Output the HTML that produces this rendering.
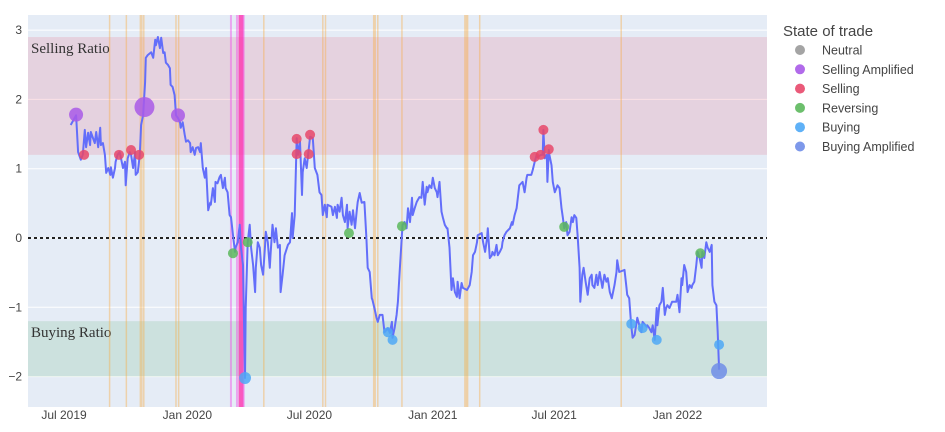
<!DOCTYPE html>
<html><head><meta charset="utf-8">
<style>
html,body{margin:0;padding:0;background:#fff;}
svg{display:block;font-family:"Liberation Sans",sans-serif;}
</style></head>
<body>
<svg id="chart" width="945" height="432" viewBox="0 0 945 432">
<defs><clipPath id="plotclip"><rect x="28" y="15" width="739" height="392"/></clipPath></defs>
<rect x="28" y="15" width="739" height="392" fill="#e5ecf6"/>
<g id="grid"></g>
<g id="bands" clip-path="url(#plotclip)"></g>
<g id="vlines" clip-path="url(#plotclip)"></g>
<g id="series" clip-path="url(#plotclip)"></g>
<g id="markers" clip-path="url(#plotclip)"></g>
<g id="axes"></g>
<g id="legend"></g>
</svg>
<script>
// x = days since 2019-07-01, y = ratio value
const lineDays=[10,18,21,25,28,31,33,36,39,40,46,48,51,54,55,58,61,63,66,69,70,73,76,77,80,83,85,88,91,92,95,98,100,103,106,107,110,113,115,118,121,122,125,130,133,136,137,140,143,145,148,150,152,155,158,159,162,165,167,170,173,174,177,180,182,185,188,189,192,195,197,200,203,204,207,210,212,215,218,219,222,225,226,229,232,234,237,240,241,244,247,249,252,255,256,259,262,264,267,270,271,274,277,279,282,285,286,289,292,294,297,300,301,304,307,308,311,314,316,319,322,323,326,329,334,337,340,341,344,347,349,352,355,356,359,362,364,367,371,374,378,381,384,386,389,392,393,399,401,404,407,408,411,414,416,419,422,423,426,429,431,434,437,438,441,444,448,451,453,456,459,460,463,466,468,471,475,478,483,486,489,490,493,496,498,501,504,505,508,511,513,516,519,520,523,526,530,533,535,538,541,542,545,548,550,553,556,557,560,563,565,568,571,572,575,578,580,583,586,587,590,593,595,601,605,608,610,613,616,617,623,625,628,631,632,635,638,639,642,645,647,650,653,654,657,660,665,668,669,672,675,679,684,687,690,691,697,699,702,705,706,712,714,715,717,720,721,723,724,727,729,732,736,739,742,744,746,749,751,754,757,759,761,764,766,769,770,773,775,778,781,784,787,788,791,794,796,799,803,806,809,811,814,817,821,824,825,828,836,839,840,843,846,848,851,855,858,861,863,869,870,873,876,878,881,884,885,888,891,893,896,898,900,903,907,913,915,918,921,922,925,928,930,933,936,937,940,943,945,948,951,952,955,958,960,963,966,967,970,973,975,977];
const lineValues=[1.63,1.77,1.24,1.13,1.20,1.56,1.31,1.52,1.34,1.53,1.37,1.53,1.31,1.59,1.34,1.37,1.20,0.94,1.01,0.91,1.02,0.87,1.01,1.10,1.20,1.24,1.15,1.01,1.10,0.76,1.15,1.24,1.20,1.01,1.24,0.91,0.95,1.20,1.63,1.77,2.25,2.60,2.64,2.68,2.60,2.86,2.78,2.90,2.74,2.89,2.67,2.68,2.53,2.50,2.45,2.21,2.18,2.06,1.77,1.73,1.67,1.59,1.67,1.49,1.39,1.41,1.37,1.24,1.31,1.20,1.30,1.31,1.24,1.37,1.01,0.87,1.01,0.40,0.51,0.48,0.72,0.52,0.81,0.79,0.88,0.91,0.72,0.87,0.72,0.66,0.33,0.30,0.04,-0.20,-0.14,-0.06,0.19,-0.14,-0.39,-2.02,-1.01,-0.06,0.19,-0.14,-0.39,-0.78,-0.43,-0.06,-0.14,-0.39,-0.53,-0.10,0.09,-0.06,-0.43,-0.25,0.19,-0.06,0.14,-0.14,-0.10,-0.78,-0.53,-0.25,-0.10,-0.06,0.36,0,0.33,1.44,1.20,1.39,0.62,0.95,1.15,1.01,1.20,1.46,1.44,1.01,0.91,0.66,0.62,0.33,0.48,0.30,0.48,0.45,0.33,0.45,0.29,0.48,0.38,0.58,0.33,0.23,0.48,0.14,0.38,0.19,0.40,0.14,0.43,0.52,0.65,0.51,0.52,0,-0.43,-0.49,-0.87,-0.89,-1.01,-1.15,-1.21,-1.11,-1.11,-1.36,-1.30,-1.37,-1.21,-1.44,-1.30,-1.11,-0.92,-0.43,0.04,0.19,0.23,0.14,0.43,0.23,0.58,0.33,0.43,0.52,0.59,0.58,0.81,0.48,0.74,0.66,0.76,0.72,0.87,0.72,0.66,0.59,0.81,0.38,0.30,0.19,0.14,0.14,-0.14,-0.75,-0.58,-0.78,-0.85,-0.63,-0.87,-0.65,-0.72,-0.75,-0.68,-0.49,-0.25,-0.20,-0.06,0.04,0.07,-0.06,-0.20,0,0.14,-0.29,-0.25,-0.20,-0.25,-0.10,-0.25,-0.20,-0.14,-0.06,0.04,0.09,0.14,0.23,0.19,0.33,0.43,0.76,0.81,0.66,0.87,0.91,0.91,0.98,1.10,1.20,1.17,1.20,1.20,1.56,1.15,1.20,0.81,1.27,1.20,1.05,0.81,0.66,0.76,0.72,0.43,0.29,0.14,0.23,0.04,0.09,0.30,0.23,0.33,0.29,0.04,-0.43,-0.92,-0.53,-0.43,-0.63,-0.82,-0.58,-0.53,-0.68,-0.72,-0.53,-0.68,-0.49,-0.72,-0.53,-0.63,-0.58,-0.78,-0.87,-0.68,-0.49,-0.32,-0.49,-0.46,-0.72,-0.82,-0.87,-1.26,-1.44,-1.40,-1.15,-1.26,-1.36,-1.21,-1.28,-1.26,-1.30,-1.36,-1.26,-1.47,-1.01,-1.26,-0.97,-0.92,-0.72,-1.11,-1.01,-0.97,-1.01,-0.92,-0.92,-0.82,-1.07,-0.58,-0.68,-0.39,-0.49,-0.78,-0.68,-0.72,-0.68,-0.63,-0.39,-0.20,-0.29,-0.43,-0.20,-0.29,-0.06,-0.14,-0.20,-0.10,-0.68,-0.92,-0.97,-1.36,-1.90];
const markerDays=[18,120,170,30,82,100,112,347,347,365,367,702,711,715,723,252,274,425,504,746,949,270,483,490,846,863,884,977,977];
const markerValues=[1.78,1.89,1.77,1.20,1.20,1.27,1.20,1.21,1.43,1.21,1.49,1.17,1.20,1.56,1.28,-0.22,-0.06,0.07,0.17,0.16,-0.22,-2.02,-1.36,-1.47,-1.24,-1.30,-1.47,-1.54,-1.92];
const markerStates=["Selling Amplified","Selling Amplified","Selling Amplified","Selling","Selling","Selling","Selling","Selling","Selling","Selling","Selling","Selling","Selling","Selling","Selling","Reversing","Reversing","Reversing","Reversing","Reversing","Reversing","Buying","Buying","Buying","Buying","Buying","Buying","Buying","Buying Amplified"];
const markerSizes=[7,10,7,5,5,5,5,5,5,5,5,5,5,5,5,5,5,5,5,5,5,6,5,5,5,5,5,5,8];
const orangeLineDays=[68,93,115,119,167,171,298,386,390,463,468,504,599,602,620,831];
const pinkLineDays=[249,258,264,268];
const stateNames=["Neutral","Selling Amplified","Selling","Reversing","Buying","Buying Amplified"];
const stateColors=["#9a9a9a","#a95ae8","#e8486a","#5cb85c","#4ea8f6","#6f8de8"];
const yTicks=[3,2,1,0,-1,-2];
const yTickLabels=["3","2","1","0","−1","−2"];
const xTickDays=[0,184,366,550,731,915];
const xTickLabels=["Jul 2019","Jan 2020","Jul 2020","Jan 2021","Jul 2021","Jan 2022"];
const sellBand=[1.2,2.9];
const buyBand=[-2.0,-1.2];

const NS="http://www.w3.org/2000/svg";
function X(d){return 64+d*0.6705;}
function Y(v){return 238-v*69.3;}
function mk(tag,attrs,parent){const e=document.createElementNS(NS,tag);for(const k in attrs)e.setAttribute(k,attrs[k]);parent.appendChild(e);return e;}
const grid=document.getElementById('grid'),bands=document.getElementById('bands'),vl=document.getElementById('vlines'),ser=document.getElementById('series'),mg=document.getElementById('markers'),ax=document.getElementById('axes'),lg=document.getElementById('legend');

yTicks.forEach((t,i)=>{
  const g=mk('line',{x1:28,x2:767,y1:Y(t),y2:Y(t),stroke:'#fff','stroke-width':1},grid);
  
  
  const l=mk('text',{x:22,y:Y(t)+4,'text-anchor':'end','font-size':12,fill:'#444'},ax);
  l.textContent=yTickLabels[i];
  
  
});
xTickDays.forEach((d,i)=>{
  const l=mk('text',{x:X(d),y:419,'text-anchor':'middle','font-size':12,fill:'#444'},ax);
  l.textContent=xTickLabels[i];
  
  
});
const sb=mk('rect',{x:28,width:739,y:Y(sellBand[1]),height:Y(sellBand[0])-Y(sellBand[1]),fill:'rgba(230,120,140,0.22)'},bands);


const bb=mk('rect',{x:28,width:739,y:Y(buyBand[1]),height:Y(buyBand[0])-Y(buyBand[1]),fill:'rgba(130,190,150,0.25)'},bands);


const st=mk('text',{x:31,y:Y(sellBand[1])+16,'font-size':15,fill:'#333','font-family':'Liberation Serif, serif'},bands);
st.textContent='Selling Ratio';


const bt=mk('text',{x:31,y:Y(buyBand[1])+16,'font-size':15,fill:'#333','font-family':'Liberation Serif, serif'},bands);
bt.textContent='Buying Ratio';



orangeLineDays.forEach((d,i)=>{
  const w=(i===2||i===9||i===12)?3:1.5;
  const l=mk('line',{x1:X(d),x2:X(d),y1:15,y2:407,stroke:'rgba(250,170,60,0.4)','stroke-width':w},vl);
  
  
});
pinkLineDays.forEach((d,i)=>{
  const strong=(i===2);
  const l=mk('line',{x1:X(d),x2:X(d),y1:15,y2:407,stroke:strong?'rgba(255,40,170,0.75)':'rgba(240,80,230,0.45)','stroke-width':strong?5:2},vl);
  
  
});

const zl=mk('line',{x1:28,x2:767,y1:Y(0),y2:Y(0),stroke:'#222','stroke-width':2,'stroke-dasharray':'3,3'},ser);


let dp='';lineDays.forEach((d,i)=>{dp+=(i?'L':'M')+X(d).toFixed(1)+','+Y(lineValues[i]).toFixed(1);});
const path=mk('path',{d:dp,fill:'none',stroke:'#636efa','stroke-width':2,'stroke-linejoin':'round'},ser);



markerDays.forEach((d,i)=>{
  const c=stateColors[stateNames.indexOf(markerStates[i])];
  const m=mk('circle',{cx:X(d),cy:Y(markerValues[i]),r:markerSizes[i],fill:c,'fill-opacity':0.85},mg);
  
  
});

const lt=mk('text',{x:783,y:36,'font-size':15,fill:'#444'},lg);
lt.textContent='State of trade';


stateNames.forEach((n,i)=>{
  const y=50+i*19.3;
  const g=mk('g',{},lg);
  
  
  mk('circle',{cx:800,cy:y,r:5,fill:stateColors[i],'fill-opacity':0.9},g);
  const t=mk('text',{x:822,y:y+4.5,'font-size':12.5,fill:'#444'},g);
  t.textContent=n;
});
</script>
</body></html>
